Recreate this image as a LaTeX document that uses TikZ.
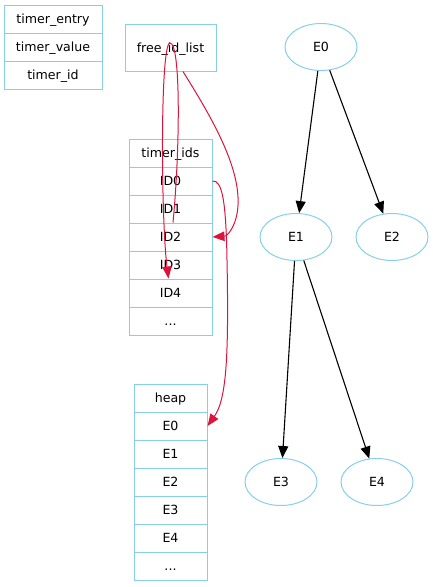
\documentclass[tikz,border=0pt]{standalone}
\usepackage{fontspec}
\setmainfont{DejaVu Sans}
\usetikzlibrary{arrows.meta,shapes.geometric}
\definecolor{sky}{HTML}{87CEEB}
\definecolor{crimson}{HTML}{DC143C}
\tikzset{
  cell/.style={draw=sky,line width=1pt,inner sep=0pt,minimum height=28pt,
    text height=9.5pt,text depth=0pt,font=\fontsize{12.6}{14}\selectfont},
  tree/.style={draw=sky,line width=1pt,ellipse,inner sep=0pt,
    text height=9.5pt,text depth=0pt,
    minimum width=72pt,minimum height=47pt,font=\fontsize{12.6}{14}\selectfont},
  edge/.style={line width=1.1pt,-{Triangle[length=12pt,width=10pt]}},
  link/.style={crimson,line width=1pt,-{Triangle[length=12pt,width=9.5pt]}}
}
\begin{document}
\begin{tikzpicture}[x=1pt,y=-1pt]
  \useasboundingbox (0,0) rectangle (433,587);
  % timer_entry record
  \draw
    (53,19) node[cell,minimum width=98pt] (te0){timer\_entry}
    (53,47) node[cell,minimum width=98pt] (te1){timer\_value}
    (53,75) node[cell,minimum width=98pt] (te2){timer\_id};
  % free list head
  \draw (170.5,47.5) node[cell,minimum width=91pt,minimum height=47pt] (free){free\_id\_list};
  % timer_ids record
  \draw
    (170.5,153) node[cell,minimum width=83pt] (ids){timer\_ids}
    (170.5,181) node[cell,minimum width=83pt] (id0){ID0}
    (170.5,209) node[cell,minimum width=83pt] (id1){ID1}
    (170.5,237) node[cell,minimum width=83pt] (id2){ID2}
    (170.5,265) node[cell,minimum width=83pt] (id3){ID3}
    (170.5,293) node[cell,minimum width=83pt] (id4){ID4}
    (170.5,321) node[cell,minimum width=83pt] (idx){...};
  % heap record
  \draw
    (170.5,398) node[cell,minimum width=73pt] (heap){heap}
    (170.5,426) node[cell,minimum width=73pt] (h0){E0}
    (170.5,454) node[cell,minimum width=73pt] (h1){E1}
    (170.5,482) node[cell,minimum width=73pt] (h2){E2}
    (170.5,510) node[cell,minimum width=73pt] (h3){E3}
    (170.5,538) node[cell,minimum width=73pt] (h4){E4}
    (170.5,566) node[cell,minimum width=73pt] (hx){...};
  % heap as a tree
  \draw
    (321,47) node[tree] (e0){E0}
    (296,237) node[tree] (e1){E1}
    (392,237) node[tree] (e2){E2}
    (281,482) node[tree] (e3){E3}
    (377,482) node[tree] (e4){E4};
  \begin{scope}[edge]
    \draw (e0) to (e1);
    \draw (e0) to (e2);
    \draw (e1) to (e3);
    \draw (e1) to (e4);
  \end{scope}
  \begin{scope}[link]
    \draw ([xshift=2.5pt]id2.north) .. controls (180,150) and (181,43) .. (170,43)
      .. controls (160,43) and (161,220) .. ([xshift=-2pt]id4.north);
    \draw ([xshift=12.5pt]free.south) .. controls (210,115) and (240,165) .. (238,205)
      .. controls (237,225) and (228,236) .. (id2.east);
    \draw (id0.east) .. controls (222,180) and (226,200) .. (227,260)
      .. controls (229,360) and (226,400) .. (h0.east);
  \end{scope}
\end{tikzpicture}
\end{document}
